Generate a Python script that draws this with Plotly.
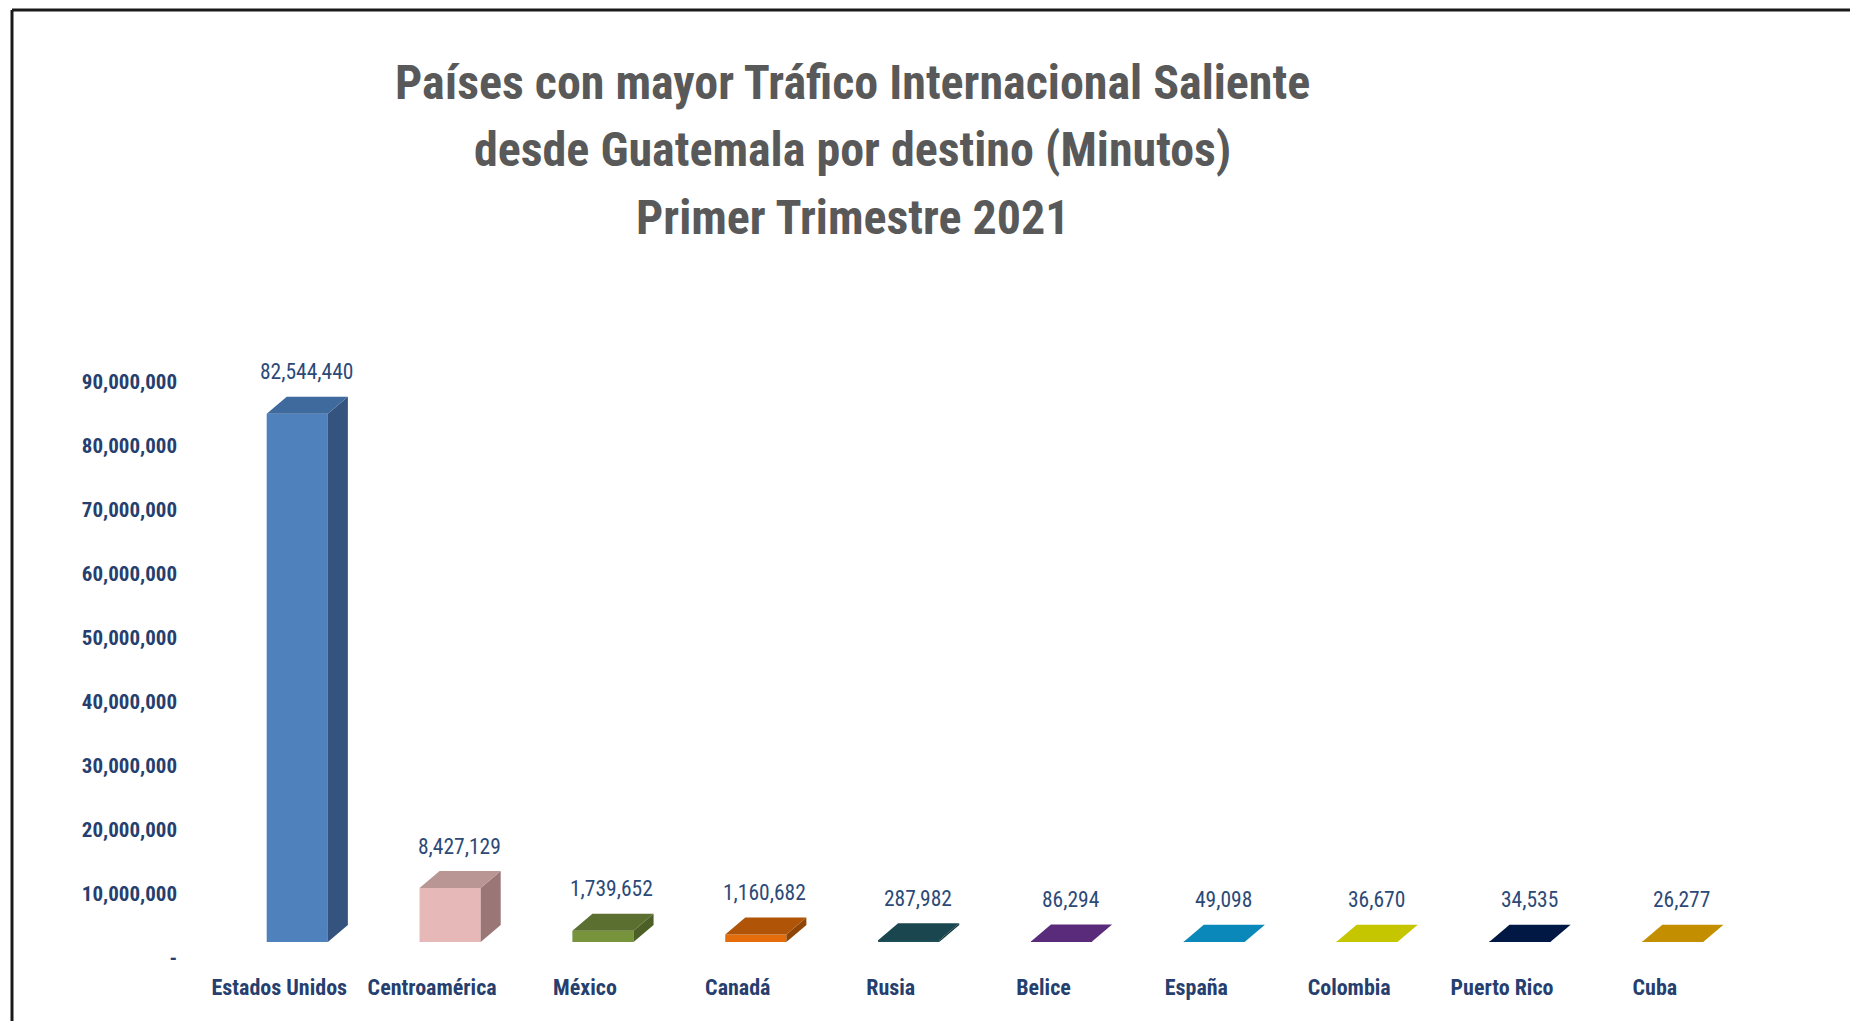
import plotly.graph_objects as go

# ---------------- data ----------------
categories = ["Estados Unidos", "Centroamérica", "México", "Canadá", "Rusia",
              "Belice", "España", "Colombia", "Puerto Rico", "Cuba"]
minutes = [82544440, 8427129, 1739652, 1160682, 287982,
           86294, 49098, 36670, 34535, 26277]
y_tick_values = [0, 10000000, 20000000, 30000000, 40000000, 50000000,
                 60000000, 70000000, 80000000, 90000000]
y_tick_labels = ["-", "10,000,000", "20,000,000", "30,000,000", "40,000,000",
                 "50,000,000", "60,000,000", "70,000,000", "80,000,000", "90,000,000"]
title_lines = ["Países con mayor Tráfico Internacional Saliente",
               "desde Guatemala por destino (Minutos)",
               "Primer Trimestre 2021"]

# ---------------- style ----------------
front_colors = ["#4F81BD", "#E6B9B8", "#77933C", "#E46C0A", "#1D4D55",
                "#5B2C7C", "#0A8BBE", "#C8C800", "#021A48", "#C69200"]
top_colors = ["#3F6A9E", "#B99594", "#5B7030", "#B05508", "#1A474F",
              "#5A2A7B", "#0B88BA", "#C6C600", "#011845", "#C38F00"]
side_colors = ["#34537E", "#9A7776", "#4B5F26", "#8F4506", "#123439",
               "#42205A", "#076688", "#939300", "#010F2C", "#8F6900"]

W, H = 1850, 1021
ML, MR, MT, MB = 186, 90, 302, 79
Y_MAX = 100000000
X_RANGE = [-0.728, 9.57]
BAR_W = 0.40
DX = 0.131                 # depth offset, x units
DY = 2.66e6                # depth offset, y units

FONT_NARROW = "Liberation Sans Narrow, Arial Narrow, Roboto Condensed, Liberation Sans, sans-serif"

xs = list(range(len(categories)))

plot_w = W - ML - MR
plot_h = H - MT - MB


def px_to_paper_x(px):
    return (px - ML) / plot_w


def px_to_paper_y(py):
    return (H - MB - py) / plot_h


fig = go.Figure()

# front faces
fig.add_trace(go.Bar(
    x=xs, y=minutes, width=BAR_W,
    marker=dict(color=front_colors, line=dict(width=0)),
    customdata=categories,
    hovertemplate="%{customdata}: %{y:,}<extra></extra>",
    showlegend=False,
))

# side and top faces (pseudo 3-D), built from the data values
for i, v in enumerate(minutes):
    x0, x1 = i - BAR_W / 2, i + BAR_W / 2
    fig.add_trace(go.Scatter(
        x=[x1, x1 + DX, x1 + DX, x1, x1],
        y=[0, DY, v + DY, v, 0],
        fill="toself", fillcolor=side_colors[i], mode="lines",
        line=dict(width=0, color=side_colors[i]),
        hoverinfo="skip", showlegend=False,
    ))
    fig.add_trace(go.Scatter(
        x=[x0, x1, x1 + DX, x0 + DX, x0],
        y=[v, v, v + DY, v + DY, v],
        fill="toself", fillcolor=top_colors[i], mode="lines",
        line=dict(width=0, color=top_colors[i]),
        hoverinfo="skip", showlegend=False,
    ))

# value labels
for i, v in enumerate(minutes):
    fig.add_annotation(
        x=i, y=v + DY, text=f"{v:,}", showarrow=False,
        xshift=9, yshift=25, yanchor="middle",
        font=dict(family=FONT_NARROW, size=21.5, color="#2C4A78"),
    )

# title lines
for k, line in enumerate(title_lines):
    fig.add_annotation(
        x=px_to_paper_x(852), y=px_to_paper_y(83 + 67 * k),
        xref="paper", yref="paper",
        text=f"<b>{line}</b>", showarrow=False, xanchor="center", yanchor="middle",
        font=dict(family=FONT_NARROW, size=48, color="#595959"),
    )

# frame lines (top and left border of the picture)
fig.add_shape(type="line", xref="paper", yref="paper",
              x0=px_to_paper_x(12), x1=px_to_paper_x(W + 5),
              y0=px_to_paper_y(10), y1=px_to_paper_y(10),
              line=dict(color="#1A1A1A", width=3))
fig.add_shape(type="line", xref="paper", yref="paper",
              x0=px_to_paper_x(12), x1=px_to_paper_x(12),
              y0=px_to_paper_y(10), y1=px_to_paper_y(H + 5),
              line=dict(color="#1A1A1A", width=3))

fig.update_layout(
    width=W, height=H,
    margin=dict(l=ML, r=MR, t=MT, b=MB, pad=0),
    paper_bgcolor="white", plot_bgcolor="white",
    bargap=0.6,
    xaxis=dict(
        range=X_RANGE, tickvals=xs, ticktext=categories,
        showgrid=False, zeroline=False, showline=False, ticks="",
        ticklabelshift=-18, ticklabelstandoff=30,
        tickfont=dict(family=FONT_NARROW, size=22, color="#263F6E", weight="bold"),
    ),
    yaxis=dict(
        range=[0, Y_MAX], tickvals=y_tick_values, ticktext=y_tick_labels,
        showgrid=False, zeroline=False, showline=False, ticks="",
        ticklabelshift=16, ticklabelstandoff=8,
        tickfont=dict(family=FONT_NARROW, size=21, color="#263F6E", weight="bold"),
    ),
    showlegend=False,
)

fig.write_html("out.html", config={"displayModeBar": False},
               post_script="document.body.style.margin='0';")
